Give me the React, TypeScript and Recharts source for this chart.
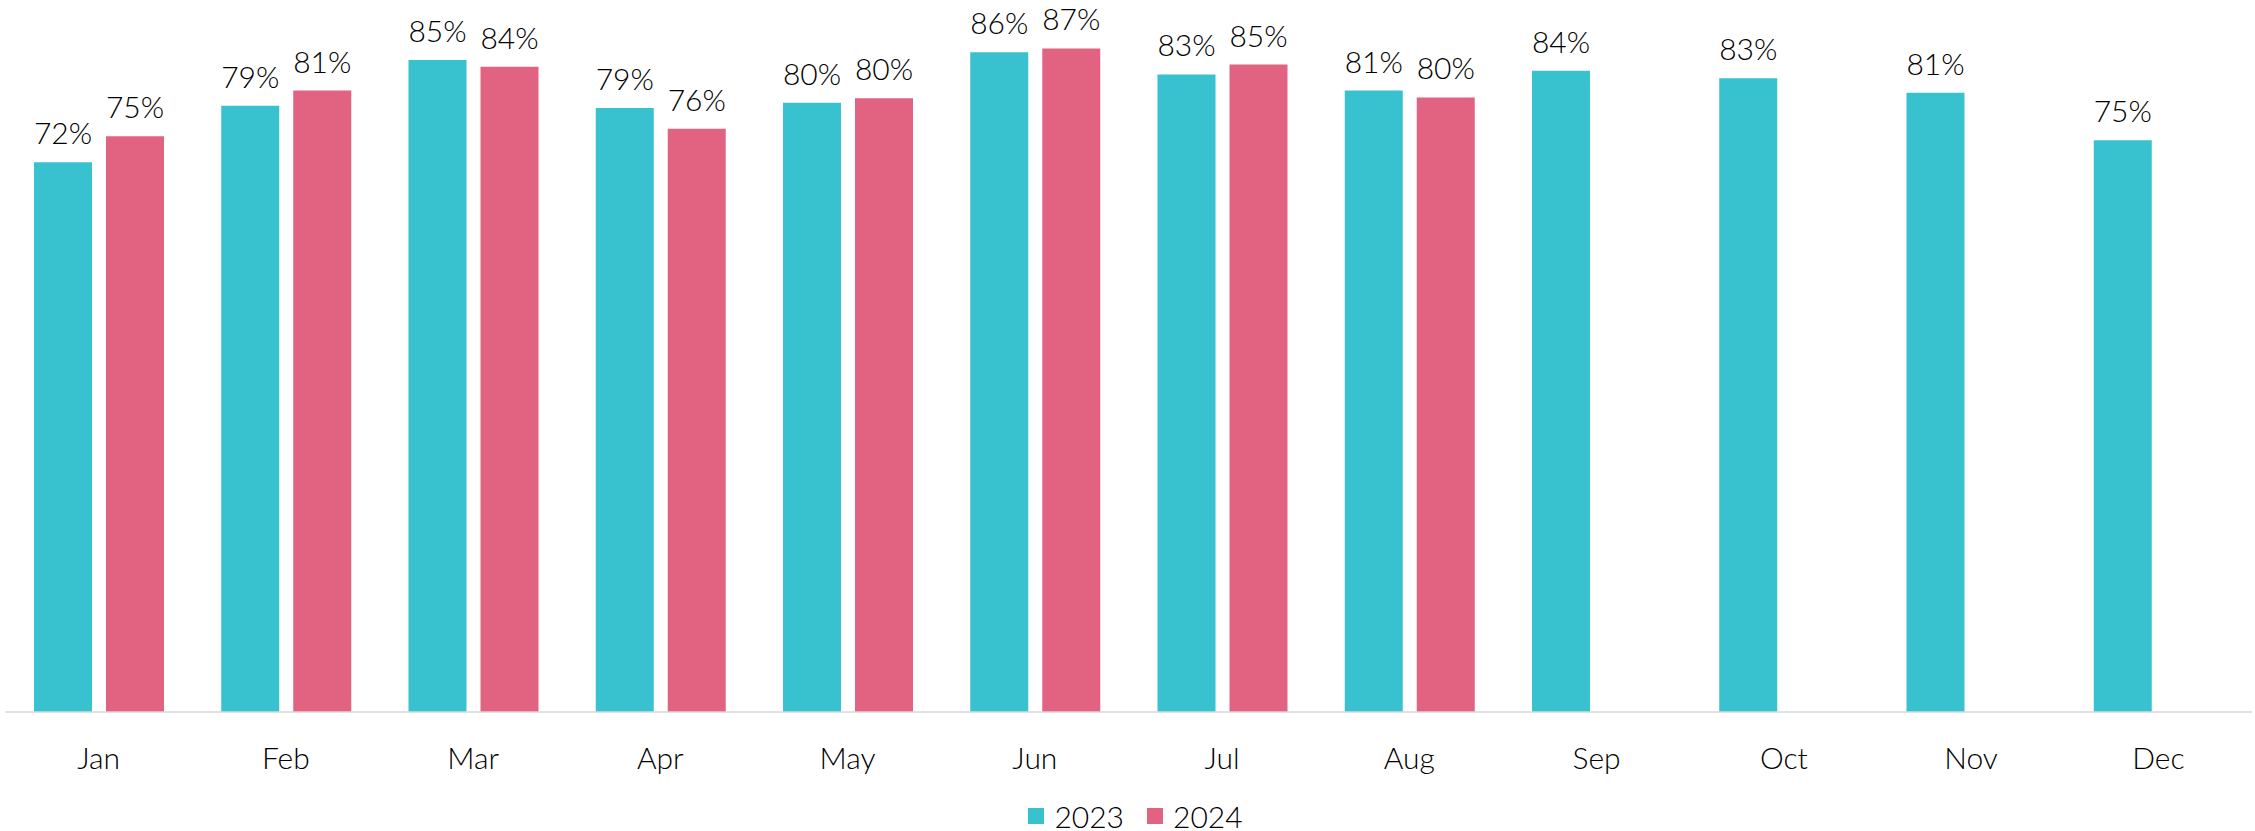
import React from "react";
import { BarChart, Bar, XAxis, YAxis, Legend, LabelList } from "recharts";

const months = ["Jan", "Feb", "Mar", "Apr", "May", "Jun", "Jul", "Aug", "Sep", "Oct", "Nov", "Dec"];
const values2023 = [0.719, 0.793, 0.853, 0.79, 0.797, 0.863, 0.834, 0.813, 0.839, 0.829, 0.81, 0.748];
const values2024: (number | null)[] = [0.753, 0.813, 0.844, 0.763, 0.803, 0.868, 0.847, 0.804, null, null, null, null];

const data = months.map((m, i) => ({ month: m, y2023: values2023[i], y2024: values2024[i] }));

const TEAL = "#38C1CF";
const PINK = "#E26381";
const FONT = "Lato, 'Noto Sans', sans-serif";
const WEIGHT = 300;

const fmt = (v: any) => (v == null ? "" : `${Math.round(v * 100)}%`);

const LegendContent = (props: any) => {
  const payload = props.payload || [];
  return (
    <div
      style={{
        display: "flex",
        justifyContent: "center",
        alignItems: "center",
        paddingTop: 19,
        paddingLeft: 14,
        fontFamily: FONT,
        fontWeight: WEIGHT,
        fontSize: 30,
        lineHeight: "30px",
        color: "#000",
      }}
    >
      {payload.map((p: any, i: number) => (
        <div key={i} style={{ display: "flex", alignItems: "center", marginRight: i === payload.length - 1 ? 0 : 23 }}>
          <span style={{ display: "inline-block", width: 16, height: 16, background: p.color, marginRight: 10 }} />
          <span>{p.value}</span>
        </div>
      ))}
    </div>
  );
};

export default function App() {
  return (
    <div style={{ position: "absolute", left: 0, top: 0, background: "#fff" }}>
      <BarChart
        width={2255}
        height={831}
        data={data}
        margin={{ top: 24, right: 3, left: 5, bottom: 0 }}
        barSize={58}
        barGap={14}
      >
        <XAxis
          dataKey="month"
          axisLine={{ stroke: "#d9d9d9", strokeWidth: 1.5 }}
          tickLine={false}
          height={70}
          interval={0}
          tick={{ fill: "#000", fontSize: 30, fontFamily: FONT, fontWeight: WEIGHT, dy: 28 }}
        />
        <YAxis hide domain={[0, 0.9]} />
        <Legend
          verticalAlign="bottom"
          align="center"
          content={LegendContent}
          wrapperStyle={{ height: 49 }}
        />
        <Bar dataKey="y2023" name="2023" fill={TEAL} isAnimationActive={false}>
          <LabelList
            dataKey="y2023"
            position="top"
            offset={18}
            formatter={fmt}
            style={{ fill: "#000", fontSize: 30, fontFamily: FONT, fontWeight: WEIGHT }}
          />
        </Bar>
        <Bar dataKey="y2024" name="2024" fill={PINK} isAnimationActive={false}>
          <LabelList
            dataKey="y2024"
            position="top"
            offset={18}
            formatter={fmt}
            style={{ fill: "#000", fontSize: 30, fontFamily: FONT, fontWeight: WEIGHT }}
          />
        </Bar>
      </BarChart>
    </div>
  );
}
